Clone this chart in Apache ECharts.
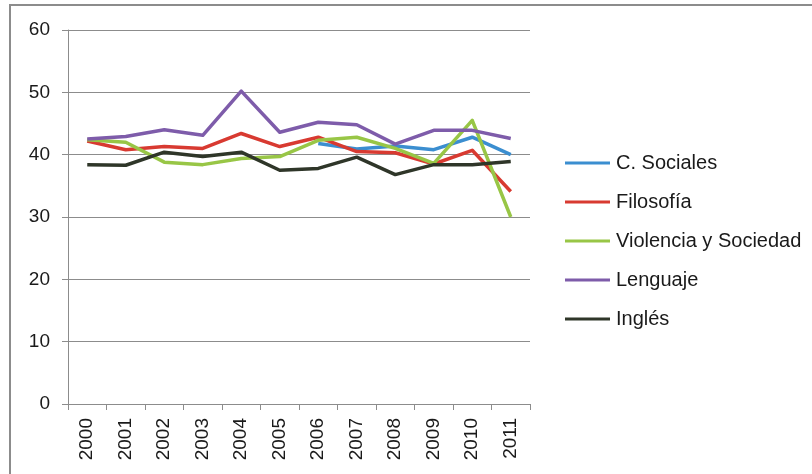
<!DOCTYPE html>
<html>
<head>
<meta charset="utf-8">
<script src="https://cdn.jsdelivr.net/npm/echarts@6/dist/echarts.min.js"></script>
<style>
html,body{margin:0;padding:0;background:#fff;}
#chart{width:812px;height:474px;}
</style>
</head>
<body>
<div id="chart"></div>
<script>
const years = ['2000','2001','2002','2003','2004','2005','2006','2007','2008','2009','2010','2011'];
const cSociales = [null, null, null, null, null, null, 41.8, 40.9, 41.4, 40.8, 42.8, 40.0];
const filosofia = [42.2, 40.8, 41.3, 41.0, 43.4, 41.3, 42.8, 40.5, 40.3, 38.5, 40.7, 34.1];
const violencia = [42.4, 42.0, 38.8, 38.4, 39.4, 39.7, 42.3, 42.8, 41.0, 38.6, 45.5, 30.0];
const lenguaje  = [42.5, 42.9, 44.0, 43.1, 50.2, 43.6, 45.2, 44.8, 41.7, 43.9, 43.9, 42.6];
const ingles    = [38.4, 38.3, 40.4, 39.7, 40.4, 37.5, 37.8, 39.6, 36.8, 38.4, 38.4, 38.9];
const yTicks = [0, 10, 20, 30, 40, 50, 60];

const seriesDefs = [
  {name: 'C. Sociales', data: cSociales, color: '#3B8ED0'},
  {name: 'Filosofía', data: filosofia, color: '#D83A31'},
  {name: 'Violencia y Sociedad', data: violencia, color: '#98C646'},
  {name: 'Lenguaje', data: lenguaje, color: '#7E5CAA'},
  {name: 'Inglés', data: ingles, color: '#2F3629'}
];

const chart = echarts.init(document.getElementById('chart'), null, {renderer: 'canvas'});
const font = 'Liberation Sans, Arial, sans-serif';
chart.setOption({
  animation: false,
  backgroundColor: '#ffffff',
  graphic: [{
    type: 'rect',
    shape: {x: 10, y: 5, width: 830, height: 490},
    style: {fill: 'none', stroke: '#8c8c8c', lineWidth: 2},
    silent: true
  }],
  grid: {left: 68, right: 282, top: 30, bottom: 70},
  legend: {
    orient: 'vertical',
    left: 565,
    top: 153,
    padding: 0,
    icon: 'rect',
    itemWidth: 45,
    itemHeight: 3,
    itemGap: 19,
    textStyle: {fontFamily: font, fontSize: 20, color: '#1a1a1a', lineHeight: 20, padding: [0,0,0,1]},
    data: seriesDefs.map(s => s.name)
  },
  xAxis: {
    type: 'category',
    data: years,
    boundaryGap: true,
    axisLine: {lineStyle: {color: '#8c8c8c', width: 1}},
    axisTick: {show: true, inside: false, length: 6, lineStyle: {color: '#8c8c8c'}},
    axisLabel: {rotate: 90, margin: 14, fontFamily: font, fontSize: 19, color: '#1a1a1a', interval: 0},
    splitLine: {show: false}
  },
  yAxis: {
    type: 'value',
    min: yTicks[0],
    max: yTicks[yTicks.length - 1],
    interval: 10,
    axisLine: {show: true, lineStyle: {color: '#8c8c8c', width: 1}},
    axisTick: {show: true, length: 6, lineStyle: {color: '#8c8c8c'}},
    axisLabel: {margin: 18, fontFamily: font, fontSize: 19, color: '#1a1a1a'},
    splitLine: {show: true, lineStyle: {color: '#8c8c8c', width: 1}}
  },
  series: seriesDefs.map(s => ({
    name: s.name,
    type: 'line',
    data: s.data,
    symbol: 'none',
    showSymbol: false,
    connectNulls: false,
    color: s.color,
    lineStyle: {color: s.color, width: 3.5, join: 'round'},
    itemStyle: {color: s.color}
  }))
});
</script>
</body>
</html>
